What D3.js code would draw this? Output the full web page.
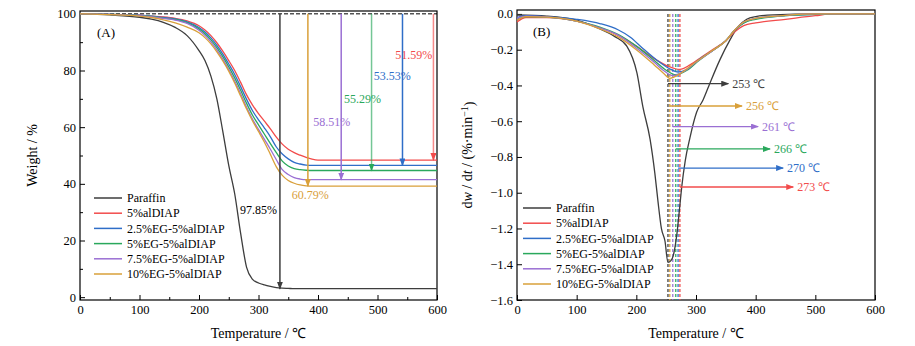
<!DOCTYPE html>
<html>
<head>
<meta charset="utf-8">
<script src="https://cdn.jsdelivr.net/npm/d3@7"></script>
<style>
  body { margin: 0; background: #fff; }
  svg, svg text { font-family: "Liberation Serif", "Times New Roman", serif; }
</style>
</head>
<body>
<div id="chart"></div>
<script>
// ---- data ----
const seriesNames = ["Paraffin", "5%alDIAP", "2.5%EG-5%alDIAP", "5%EG-5%alDIAP", "7.5%EG-5%alDIAP", "10%EG-5%alDIAP"];
const seriesColors = ["#3d3d3d", "#f24b4b", "#2f6ec8", "#2aa85c", "#9a6fd3", "#d9a03a"];

// TGA (weight %) on a shared temperature grid
const tgaTemp = [0, 50, 100, 120, 140, 160, 180, 200, 210, 220, 230, 240, 250, 260, 270, 280, 290, 300, 310, 320, 330, 340, 350, 360, 370, 380, 390, 400, 450, 500, 550, 600];
const tgaParaffin = [100, 99.6, 98.8, 98.1, 97, 95.2, 92.3, 87, 83.5, 78, 70, 58.5, 46.5, 36.5, 22.5, 10.5, 6.3, 5, 4.3, 3.8, 3.4, 3.2, 3.1, 3, 3, 3, 3, 3, 3, 3, 3, 3];
const tgaAl = [100, 99.8, 99.5, 99.2, 98.9, 98.4, 97.5, 95.8, 94.3, 92.3, 89.8, 86.8, 83.5, 80, 75.8, 71.4, 67.8, 64.8, 62.1, 59.4, 56.5, 54, 52.2, 51, 50.1, 49.3, 48.7, 48.4, 48.4, 48.4, 48.4, 48.4];
const tgaEG25 = [100, 99.8, 99.5, 99.2, 98.7, 98.2, 97.2, 95.2, 93.6, 91.5, 88.9, 85.8, 82.3, 78.6, 74.3, 69.8, 65.8, 62.6, 59.7, 56.6, 53, 50.5, 48.8, 47.6, 47, 46.6, 46.5, 46.5, 46.5, 46.5, 46.5, 46.5];
const tgaEG5 = [100, 99.8, 99.4, 99.1, 98.5, 98, 96.9, 94.7, 93, 90.8, 88.1, 84.9, 81.3, 77.4, 73, 68.4, 64.2, 60.8, 57.5, 54.2, 51, 48, 46.3, 45.4, 45, 44.8, 44.7, 44.7, 44.7, 44.7, 44.7, 44.7];
const tgaEG75 = [100, 99.8, 99.4, 99, 98.4, 97.8, 96.6, 94.2, 92.4, 90.1, 87.3, 84, 80.3, 76.3, 71.8, 67, 62.8, 59.2, 55.7, 52.2, 48.5, 45, 43.3, 42.2, 41.7, 41.5, 41.5, 41.5, 41.5, 41.5, 41.5, 41.5];
const tgaEG10 = [100, 99.7, 99.2, 98.7, 97.9, 96.8, 95.3, 93.3, 91.6, 89.4, 86.6, 83.4, 79.8, 75.6, 71, 66.4, 62.2, 58.5, 54.7, 50.4, 46, 43, 41.2, 40.2, 39.6, 39.3, 39.2, 39.2, 39.2, 39.2, 39.2, 39.2];

// mass-loss annotations (panel A)
const lossTemp = [336, 594, 542, 490, 439, 383];
const lossLabels = ["97.85%", "51.59%", "53.53%", "55.29%", "58.51%", "60.79%"];
const lossLabelT = [331, 592, 556, 506, 454, 387];
const lossLabelW = [30.7, 85.5, 78, 70, 62, 36];
const lossAnchor = ["end", "end", "end", "end", "end", "middle"];

// DTG (%/min), [temperature, rate]
const dtgParaffin = [[0, -0.006], [50, -0.012], [100, -0.035], [136, -0.08], [164, -0.127], [184, -0.18], [201, -0.33], [211, -0.52], [223, -0.7], [231, -0.89], [236, -1.04], [242, -1.2], [248, -1.27], [253, -1.39], [258, -1.38], [262, -1.35], [268, -1.23], [273, -1.07], [276, -0.97], [282, -0.82], [290, -0.69], [301, -0.55], [312, -0.48], [323, -0.39], [340, -0.257], [357, -0.145], [371, -0.07], [385, -0.03], [400, -0.015], [430, -0.005], [500, 0], [600, 0]];
const dtgAl = [[0, -0.045], [15, -0.02], [50, -0.02], [100, -0.04], [140, -0.08], [170, -0.12], [200, -0.18], [230, -0.25], [255, -0.295], [273, -0.31], [290, -0.285], [310, -0.24], [330, -0.195], [350, -0.15], [365, -0.1], [380, -0.065], [400, -0.05], [450, -0.03], [500, -0.01], [530, 0], [600, 0]];
const dtgEG25 = [[0, -0.02], [15, -0.01], [50, -0.015], [100, -0.03], [140, -0.055], [170, -0.09], [190, -0.13], [210, -0.19], [235, -0.26], [255, -0.305], [270, -0.325], [285, -0.31], [305, -0.255], [330, -0.2], [350, -0.15], [365, -0.09], [380, -0.05], [400, -0.025], [450, -0.01], [500, -0.003], [530, 0], [600, 0]];
const dtgEG5 = [[0, -0.03], [15, -0.015], [50, -0.018], [100, -0.04], [140, -0.075], [170, -0.115], [200, -0.18], [230, -0.26], [250, -0.315], [266, -0.34], [285, -0.315], [305, -0.26], [330, -0.2], [350, -0.15], [365, -0.09], [380, -0.05], [400, -0.03], [450, -0.01], [500, -0.003], [530, 0], [600, 0]];
const dtgEG75 = [[0, -0.025], [15, -0.012], [50, -0.016], [100, -0.04], [140, -0.08], [170, -0.12], [200, -0.19], [230, -0.27], [245, -0.315], [261, -0.345], [280, -0.32], [300, -0.27], [330, -0.2], [350, -0.15], [365, -0.09], [380, -0.045], [400, -0.025], [450, -0.008], [500, 0], [600, 0]];
const dtgEG10 = [[0, -0.035], [15, -0.015], [50, -0.018], [100, -0.04], [140, -0.085], [170, -0.13], [200, -0.2], [230, -0.285], [245, -0.33], [256, -0.36], [275, -0.33], [295, -0.28], [325, -0.21], [350, -0.15], [365, -0.09], [380, -0.045], [400, -0.025], [450, -0.008], [500, 0], [600, 0]];

// peak annotations (panel B)
const peakTemp = [253, 273, 270, 266, 261, 256];
const peakArrowV = [-0.39, -0.968, -0.862, -0.755, -0.63, -0.515];
const peakArrowEnd = [354, 463, 446, 424, 404, 377];

const tgaSeries = [tgaParaffin, tgaAl, tgaEG25, tgaEG5, tgaEG75, tgaEG10];
const dtgSeries = [dtgParaffin, dtgAl, dtgEG25, dtgEG5, dtgEG75, dtgEG10];

// ---- layout ----
const W = 915, H = 346;
const FONT = "'Liberation Serif', 'Times New Roman', serif";
const svg = d3.select("#chart").append("svg").attr("width", W).attr("height", H)
  .attr("font-family", FONT);

const defs = svg.append("defs");
seriesColors.forEach((c, i) => {
  defs.append("marker")
    .attr("id", "arr" + i)
    .attr("markerUnits", "userSpaceOnUse")
    .attr("markerWidth", 8).attr("markerHeight", 6)
    .attr("refX", 7).attr("refY", 3)
    .attr("orient", "auto")
    .append("path").attr("d", "M0,0 L8,3 L0,6 Z").attr("fill", c);
});

function drawFrame(x, y, xTicks, yTicks, xMinor, yMinor, yFmt) {
  const g = svg.append("g");
  const [x0, x1] = x.range();
  const [y0, y1] = y.range();

  const ax = g.append("g").attr("transform", `translate(0,${y0})`)
    .call(d3.axisBottom(x).tickValues(xTicks).tickSize(-5).tickPadding(5));
  const ay = g.append("g").attr("transform", `translate(${x0},0)`)
    .call(d3.axisLeft(y).tickValues(yTicks).tickSize(-5).tickPadding(4).tickFormat(yFmt));
  [ax, ay].forEach(a => {
    a.attr("font-family", FONT).attr("font-size", 12.5);
    a.select(".domain").remove();
    a.selectAll("text").attr("fill", "#000");
    a.selectAll("line").attr("stroke", "#000");
  });
  if (xMinor) g.append("g").attr("transform", `translate(0,${y0})`)
    .call(d3.axisBottom(x).tickValues(xMinor).tickSize(-3).tickFormat(""))
    .call(s => s.select(".domain").remove());
  if (yMinor) g.append("g").attr("transform", `translate(${x0},0)`)
    .call(d3.axisLeft(y).tickValues(yMinor).tickSize(-3).tickFormat(""))
    .call(s => s.select(".domain").remove());

  g.append("rect").attr("x", x0).attr("y", y1)
    .attr("width", x1 - x0).attr("height", y0 - y1)
    .attr("fill", "none").attr("stroke", "#000").attr("stroke-width", 1.2);

  svg.append("text")
    .attr("x", (x0 + x1) / 2).attr("y", 338)
    .attr("text-anchor", "middle").attr("font-size", 14)
    .text("Temperature / ℃");
}

function drawLegend(lx, ly) {
  const g = svg.append("g");
  seriesNames.forEach((n, i) => {
    const yy = ly + i * 15.2;
    g.append("line").attr("x1", lx).attr("x2", lx + 28).attr("y1", yy).attr("y2", yy)
      .attr("stroke", seriesColors[i]).attr("stroke-width", 1.5);
    g.append("text").attr("x", lx + 33).attr("y", yy).attr("dy", "0.35em")
      .attr("font-size", 12).text(n);
  });
}

// ---- panel A: TGA ----
const xA = d3.scaleLinear().domain([0, 600]).range([80, 437]);
const yA = d3.scaleLinear().domain([-1, 101]).range([300, 11]);

drawFrame(xA, yA, d3.range(0, 601, 100), d3.range(0, 101, 20),
  d3.range(50, 600, 100), d3.range(10, 100, 20), d3.format("d"));

svg.append("line")
  .attr("x1", xA(0)).attr("x2", xA(600)).attr("y1", yA(100)).attr("y2", yA(100))
  .attr("stroke", "#000").attr("stroke-dasharray", "4,2").attr("stroke-width", 1);

const lineA = d3.line().x((d, i) => xA(tgaTemp[i])).y(d => yA(d)).curve(d3.curveMonotoneX);
tgaSeries.forEach((s, i) => {
  svg.append("path").attr("d", lineA(s))
    .attr("fill", "none").attr("stroke", seriesColors[i]).attr("stroke-width", 1.3);
});

tgaSeries.forEach((s, i) => {
  const residual = s[s.length - 1];
  const fade = (i === 1 || i === 3) ? 0.65 : 1;
  svg.append("line")
    .attr("x1", xA(lossTemp[i])).attr("x2", xA(lossTemp[i]))
    .attr("y1", yA(100)).attr("y2", yA(residual))
    .attr("stroke", seriesColors[i]).attr("stroke-width", 1.5)
    .attr("stroke-opacity", fade)
    .attr("marker-end", `url(#arr${i})`);
  svg.append("text")
    .attr("x", xA(lossLabelT[i])).attr("y", yA(lossLabelW[i])).attr("dy", "0.35em")
    .attr("text-anchor", lossAnchor[i]).attr("font-size", 12)
    .attr("fill", i === 0 ? "#000" : seriesColors[i])
    .text(lossLabels[i]);
});

svg.append("text").attr("x", 97).attr("y", 37).attr("font-size", 13).text("(A)");

drawLegend(94, 198);

svg.append("text")
  .attr("transform", `translate(37,${(yA.range()[0] + yA.range()[1]) / 2}) rotate(-90)`)
  .attr("text-anchor", "middle").attr("font-size", 14)
  .text("Weight / %");

// ---- panel B: DTG ----
const xB = d3.scaleLinear().domain([0, 600]).range([517, 875]);
const yB = d3.scaleLinear().domain([-1.6, 0.022]).range([300, 10]);

drawFrame(xB, yB, d3.range(0, 601, 100), d3.range(-1.6, 0.01, 0.2),
  null, null, d3.format(".1f"));

// dashed peak markers
peakTemp.forEach((t, i) => {
  svg.append("line")
    .attr("x1", xB(t)).attr("x2", xB(t)).attr("y1", yB(0)).attr("y2", yB(-1.6))
    .attr("stroke", seriesColors[i]).attr("stroke-width", 1.5)
    .attr("stroke-dasharray", "3,2").attr("stroke-opacity", 0.85);
});

const lineB = d3.line().x(d => xB(d[0])).y(d => yB(d[1])).curve(d3.curveMonotoneX);
dtgSeries.forEach((s, i) => {
  svg.append("path").attr("d", lineB(s))
    .attr("fill", "none").attr("stroke", seriesColors[i]).attr("stroke-width", 1.3);
});

peakTemp.forEach((t, i) => {
  svg.append("line")
    .attr("x1", xB(t)).attr("x2", xB(peakArrowEnd[i]))
    .attr("y1", yB(peakArrowV[i])).attr("y2", yB(peakArrowV[i]))
    .attr("stroke", seriesColors[i]).attr("stroke-width", 1.3)
    .attr("marker-end", `url(#arr${i})`);
  svg.append("text")
    .attr("x", xB(peakArrowEnd[i]) + 4).attr("y", yB(peakArrowV[i])).attr("dy", "0.35em")
    .attr("font-size", 12).attr("fill", seriesColors[i])
    .text(`${t} ℃`);
});

svg.append("text").attr("x", 533).attr("y", 36).attr("font-size", 13).text("(B)");

drawLegend(523, 208);

const yt = svg.append("text")
  .attr("transform", `translate(472,${(yB.range()[0] + yB.range()[1]) / 2}) rotate(-90)`)
  .attr("text-anchor", "middle").attr("font-size", 14);
yt.append("tspan").text("d");
yt.append("tspan").attr("font-style", "italic").text("w");
yt.append("tspan").text(" / d");
yt.append("tspan").attr("font-style", "italic").text("t");
yt.append("tspan").text(" / (%·min");
yt.append("tspan").attr("dy", "-0.4em").attr("font-size", 10).text("−1");
yt.append("tspan").attr("dy", "0.4em").text(")");
</script>
</body>
</html>
